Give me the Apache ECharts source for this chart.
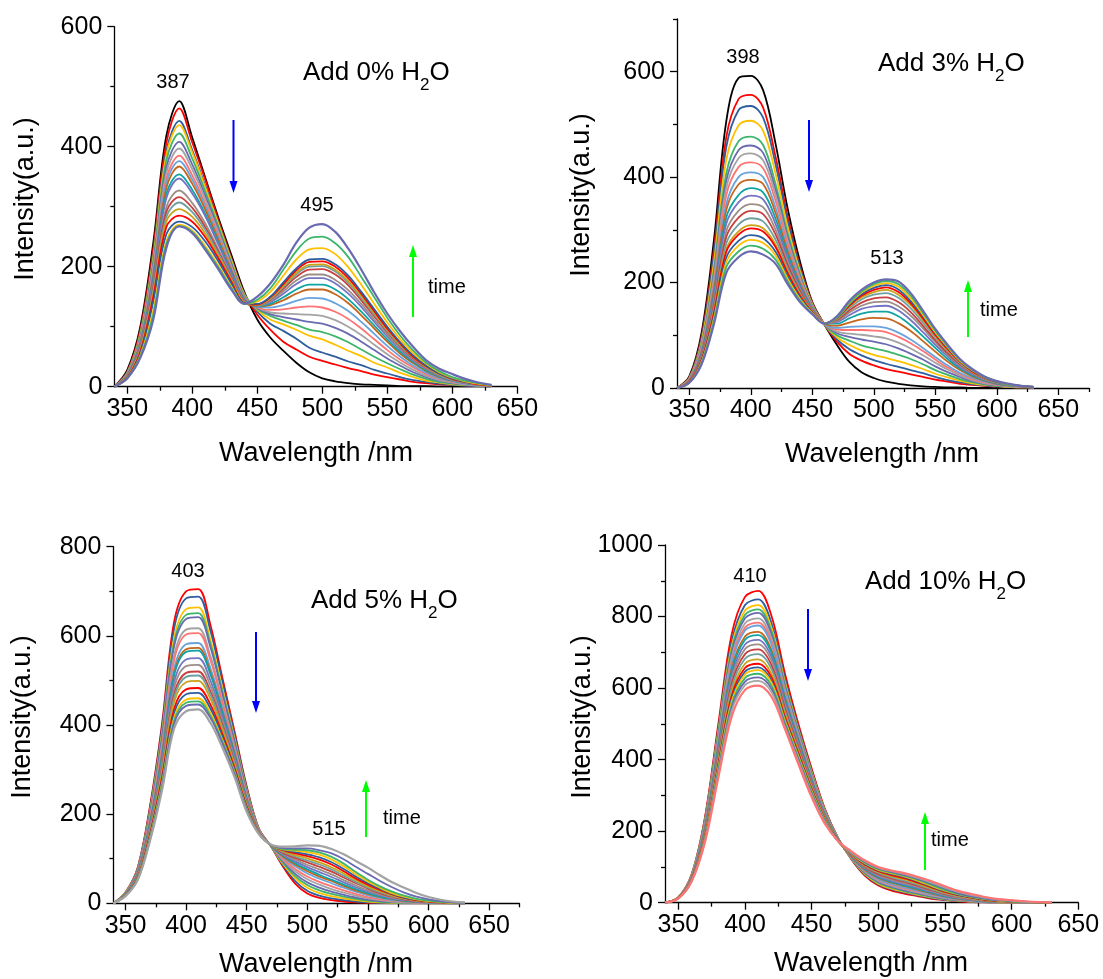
<!DOCTYPE html>
<html><head><meta charset="utf-8">
<script src="https://cdn.jsdelivr.net/npm/echarts@6/dist/echarts.min.js"></script>
<style>html,body{margin:0;padding:0;background:#fff}#c{width:1103px;height:979px}</style>
</head><body><div id="c"></div>
<script>
// ---------------- DATA ----------------
const wavelengths = [340,350,360,370,380,390,400,410,420,430,440,450,460,470,480,490,500,510,520,530,540,550,560,570,580,590,600,610,620,630];

const xTickLabels = [350,400,450,500,550,600,650];
const xMinorTo650 = [375,425,475,525,575,625];
const xMinorTo675 = [375,425,475,525,575,625,675];
const yTicks600 = [0,200,400,600];
const yMinor600 = [100,300,500];
const yMinor700 = [100,300,500,700];
const yTicks800 = [0,200,400,600,800];
const yMinor800 = [100,300,500,700];
const yTicks1000 = [0,200,400,600,800,1000];
const yMinor1000 = [100,300,500,700,900];

const panelTitles = ['Add 0% H', 'Add 3% H', 'Add 5% H', 'Add 10% H'];
const peakLabels = [['387','495'], ['398','513'], ['403','515'], ['410']];

// Panel 1: Add 0% H2O (time series, first curve black)
const panel1Curves = [
[0,28,100,240,418,476,415,348,282,220,158,112,82,60,40,24,14,9,6,4,3,2,1,1,1,0,0,0,0,0],
[0,25,95,230,406,464,407,345,278,215,155,120,95,75,62,50,43,37,31,26,20,16,12,8,6,4,3,2,1,1],
[0,24,90,220,392,443,394,335,274,213,155,125,105,93,80,65,57,50,42,36,28,22,16,11,8,5,3,2,1,1],
[0,23,88,216,386,436,390,332,272,211,154,128,112,104,95,85,79,70,60,51,40,32,23,16,10,7,4,3,2,1],
[0,22,85,210,376,422,380,325,267,207,152,130,118,110,103,95,91,84,74,62,50,39,29,20,13,8,5,3,2,1],
[0,21,82,204,365,408,370,318,262,204,150,131,121,116,112,108,105,98,88,75,61,47,35,24,16,10,6,4,2,1],
[0,21,80,199,356,397,362,312,258,201,149,132,124,122,121,120,118,111,100,86,70,54,40,28,18,11,7,4,2,1],
[0,20,78,194,346,385,352,305,253,198,148,132,128,129,132,134,132,125,113,97,79,61,45,32,21,13,8,5,3,1],
[0,20,76,190,339,376,345,300,249,196,147,133,132,136,143,148,147,139,126,108,88,68,50,35,23,14,9,5,3,1],
[0,19,74,186,331,367,338,295,245,194,146,134,136,144,155,162,162,154,139,119,97,75,55,39,26,16,10,6,3,2],
[0,18,71,180,321,354,328,288,240,191,145,134,138,149,162,170,170,162,146,125,102,79,58,41,27,17,10,6,3,2],
[0,18,70,177,314,347,322,284,237,189,144,135,141,155,171,181,181,172,155,133,108,84,62,43,29,18,11,6,3,2],
[0,17,67,170,299,327,306,272,229,184,142,135,143,159,177,187,187,178,161,138,112,87,64,45,30,19,11,7,4,2],
[0,17,65,166,291,316,298,266,225,182,141,136,145,163,183,195,196,187,169,144,117,91,67,47,31,20,12,7,4,2],
[0,16,63,161,283,307,291,261,222,180,140,136,146,166,187,200,201,192,173,148,120,93,68,48,32,20,12,7,4,2],
[0,16,61,156,275,296,283,255,218,178,140,136,147,168,190,203,204,195,176,151,123,95,70,49,33,21,13,8,4,2],
[0,15,58,150,266,285,275,249,214,175,139,137,149,171,194,208,209,200,181,155,126,97,72,50,34,22,13,8,4,2],
[0,15,55,142,254,275,266,242,209,172,139,138,150,174,197,212,213,204,185,158,129,100,74,52,35,22,14,8,5,2],
[0,14,52,127,242,270,260,234,202,167,138,142,158,185,212,229,231,221,199,170,138,107,79,56,38,24,15,9,5,2],
[0,14,50,120,237,268,258,231,199,165,138,145,164,195,226,247,250,239,216,183,149,115,85,60,40,26,16,10,6,3],
[0,14,48,112,231,267,256,228,196,162,138,150,172,203,240,265,271,258,230,195,157,122,92,66,44,30,21,13,7,3]
];

// Panel 2: Add 3% H2O
const panel2Curves = [
[0,22,105,280,505,588,592,565,465,340,240,163,120,82,50,30,19,12,8,5,3,2,1,1,0,0,0,0,0,0],
[0,20,98,262,475,548,556,532,440,325,232,162,120,88,65,52,43,36,31,26,21,16,12,8,6,4,3,2,1,1],
[0,19,94,252,456,527,535,513,426,316,228,160,120,92,74,62,53,46,40,34,28,21,15,11,7,5,3,2,1,1],
[0,18,88,238,432,498,507,488,408,305,222,158,120,96,82,71,63,57,51,44,36,27,20,14,9,6,4,2,1,1],
[0,17,83,224,406,468,477,461,388,293,216,156,120,100,90,81,75,70,63,55,45,34,25,17,11,7,4,3,2,1],
[0,16,80,216,392,451,460,446,377,286,212,155,121,104,97,92,88,83,75,65,54,41,30,21,13,8,5,3,2,1],
[0,16,78,209,379,436,445,432,367,280,209,154,121,107,103,101,98,94,86,75,62,48,35,24,15,9,6,3,2,1],
[0,15,75,201,365,419,428,417,356,273,205,153,122,111,110,110,109,106,97,85,70,54,39,27,17,11,6,4,2,1],
[0,14,71,192,348,400,409,400,343,265,201,152,122,114,116,117,117,114,105,92,76,59,43,29,19,12,7,4,2,1],
[0,14,69,186,337,386,395,387,333,259,198,151,122,118,124,130,133,132,123,108,89,69,50,34,22,14,8,5,3,1],
[0,13,66,178,323,366,379,371,322,252,194,150,123,122,132,141,145,145,136,119,98,76,55,37,24,15,9,5,3,1],
[0,13,64,172,311,352,365,358,312,246,191,149,123,125,138,150,155,156,147,129,106,82,60,40,26,16,10,6,3,1],
[0,12,61,164,297,336,349,343,301,239,187,148,123,127,143,156,163,164,155,137,113,87,63,43,28,17,10,6,3,1],
[0,12,59,158,286,323,336,330,292,233,184,147,123,129,147,162,170,172,163,144,118,91,66,45,29,18,11,6,3,1],
[0,11,56,151,274,310,322,316,282,227,180,146,123,131,151,168,177,180,171,151,124,96,70,47,30,19,11,6,3,1],
[0,11,54,145,263,297,309,303,273,221,177,145,123,132,154,172,182,186,177,157,129,99,72,49,31,19,12,7,4,2],
[0,11,53,142,258,291,303,297,268,218,175,144,123,133,156,175,186,191,182,161,132,101,74,50,32,20,12,7,4,2],
[0,10,51,136,247,279,290,284,259,212,172,143,123,133,158,178,190,195,187,165,136,104,76,51,33,20,12,7,4,2],
[0,10,49,131,238,270,281,275,252,207,169,142,123,134,160,181,194,199,192,170,139,106,78,52,34,21,13,7,4,2],
[0,10,47,126,229,259,270,264,244,202,166,141,122,134,162,183,197,203,197,175,143,109,80,54,35,21,13,7,4,2],
[0,10,45,121,218,248,259,253,236,197,163,140,122,136,165,186,200,206,202,180,147,112,82,55,36,22,13,8,4,2]
];

// Panel 3: Add 5% H2O
const panel3Curves = [
[0,25,80,215,400,630,700,705,625,505,385,262,168,128,82,44,22,12,7,4,2,1,1,0,0,0,0,0,0,0],
[0,24,78,210,392,615,684,688,612,496,379,259,167,128,85,50,28,17,11,7,4,2,1,1,0,0,0,0,0,0],
[0,24,76,204,380,594,660,664,592,482,370,254,166,128,88,56,35,23,16,11,7,4,2,1,1,0,0,0,0,0],
[0,23,75,200,373,583,647,651,582,474,365,251,165,128,91,61,41,29,21,15,10,6,3,2,1,1,0,0,0,0],
[0,23,74,198,368,575,638,642,575,469,361,249,165,129,94,66,47,35,26,19,13,8,5,3,2,1,0,0,0,0],
[0,22,71,191,355,554,614,617,555,455,352,244,164,129,97,72,54,42,32,24,17,11,7,4,2,1,1,0,0,0],
[0,22,70,188,349,544,603,606,546,449,348,241,163,129,100,77,60,48,38,29,21,14,9,6,3,2,1,0,0,0],
[0,21,68,181,337,525,581,584,528,437,340,237,162,129,103,83,67,55,45,35,26,18,12,7,4,3,1,1,0,0],
[0,21,67,178,331,515,570,573,519,430,336,235,161,129,105,87,72,60,50,39,29,21,14,9,5,3,2,1,0,0],
[0,21,66,176,327,510,564,567,514,427,334,234,161,129,107,90,76,64,53,42,32,23,15,10,6,3,2,1,0,0],
[0,20,64,171,318,495,547,550,500,417,328,231,160,130,109,94,81,70,59,47,36,26,18,11,7,4,2,1,0,0],
[0,20,63,167,310,482,532,535,488,409,322,228,160,130,111,98,86,76,65,52,40,29,20,13,8,5,3,1,1,0],
[0,19,61,162,301,468,517,520,476,400,317,225,159,130,113,102,92,82,71,58,45,33,23,15,9,5,3,2,1,0],
[0,19,60,160,296,460,508,511,469,395,314,223,159,130,115,105,96,87,76,62,48,35,25,16,10,6,3,2,1,0],
[0,19,59,156,289,450,496,499,459,388,309,221,158,130,117,108,101,92,81,67,52,38,27,18,11,6,4,2,1,0],
[0,18,57,152,280,435,480,483,446,379,303,217,158,131,119,112,106,98,87,72,56,42,30,20,12,7,4,2,1,0],
[0,18,56,149,274,425,469,472,437,373,299,215,157,131,120,115,110,103,92,77,60,45,32,21,13,8,5,3,1,0],
[0,17,55,145,267,415,457,460,427,366,294,212,157,131,121,118,115,109,98,83,65,49,35,23,15,9,5,3,1,1],
[0,17,54,143,263,408,450,453,421,362,291,210,156,131,122,120,119,114,104,89,70,53,38,26,17,10,6,3,2,1],
[0,17,53,141,259,402,443,446,416,358,289,209,156,131,124,123,123,119,112,99,82,66,50,36,24,15,9,5,2,1],
[0,16,52,138,252,391,431,435,405,349,283,205,155,132,127,128,130,129,122,110,95,80,63,47,35,23,14,8,4,2]
];

// Panel 4: Add 10% H2O
const panel4Curves = [
[0,15,80,240,500,750,855,872,800,640,500,375,262,180,120,75,48,34,25,18,11,7,4,2,1,0,0,0,0,0],
[0,15,78,234,488,730,832,848,780,626,491,369,259,179,121,78,51,37,28,20,13,8,5,3,1,1,0,0,0,0],
[0,15,77,230,480,717,817,832,767,617,485,365,257,178,122,80,53,39,30,22,15,9,6,3,2,1,0,0,0,0],
[0,15,76,227,474,707,805,820,757,610,481,362,255,178,123,82,56,42,32,24,16,10,6,4,2,1,1,0,0,0],
[0,14,75,224,468,699,795,810,749,604,477,359,254,177,124,84,58,44,34,26,18,11,7,4,2,1,1,0,0,0],
[0,14,74,220,460,686,781,795,737,596,471,355,252,177,125,86,61,47,37,28,20,13,8,5,3,2,1,0,0,0],
[0,14,73,217,453,676,769,783,727,589,466,352,250,176,126,88,64,50,40,31,22,14,9,5,3,2,1,0,0,0],
[0,14,72,215,448,669,761,775,720,584,463,349,249,176,127,90,66,52,42,33,23,15,10,6,3,2,1,1,0,0],
[0,14,71,210,438,654,744,757,705,573,456,344,246,175,128,92,69,56,46,36,26,17,11,7,4,2,1,1,0,0],
[0,13,70,208,433,646,735,748,697,568,452,342,245,175,129,94,71,58,48,38,28,18,12,7,4,3,2,1,0,0],
[0,13,69,204,425,635,722,735,686,560,446,338,243,174,130,96,74,61,51,41,30,20,13,8,5,3,2,1,0,0],
[0,13,68,201,418,624,709,722,675,552,441,334,241,174,131,98,77,64,54,44,32,22,14,9,5,3,2,1,0,0],
[0,13,67,197,410,612,695,708,663,543,435,330,239,173,132,100,80,68,58,47,35,24,16,10,6,4,2,1,0,0],
[0,13,66,193,402,601,682,695,652,535,429,326,237,173,133,102,83,71,61,50,37,26,17,11,7,4,2,1,1,0],
[0,13,65,189,394,588,668,680,639,526,423,322,235,172,134,104,86,74,65,53,40,28,19,12,7,4,3,2,1,0],
[0,13,64,186,387,578,656,668,629,519,418,318,233,172,135,106,88,77,68,56,43,30,21,14,8,5,3,2,1,0],
[0,12,63,183,381,569,646,658,620,513,413,315,231,172,136,108,90,80,71,59,45,32,22,15,9,6,3,2,1,0],
[0,12,62,181,377,562,638,650,614,509,410,312,230,171,137,110,92,82,73,61,47,34,24,16,10,6,4,2,1,0],
[0,12,62,178,371,553,628,640,605,503,405,309,228,171,138,112,94,84,75,64,50,36,25,17,11,7,4,2,1,1],
[0,12,61,176,365,545,618,630,597,497,401,305,226,171,139,114,96,86,77,66,53,39,27,18,12,7,5,3,1,1],
[0,12,60,173,359,536,608,620,588,491,396,301,224,171,140,116,98,88,80,69,56,42,30,21,14,9,6,3,2,1],
[0,12,60,170,350,520,595,607,575,485,388,295,220,172,143,118,100,90,82,72,60,46,33,24,16,10,7,4,2,1]
];

// ---------------- STYLE / LAYOUT ----------------
const palette = ['#FF0000','#2E5E9E','#FFC000','#3DB56A','#6A6AB0','#A3A3A3','#FF7373','#6AA3DC','#C4661B','#0FA3A3','#7474C4','#9C8E86','#C93E3E','#6FA0A0','#C9A21A'];
const panels = [
  {curves: panel1Curves, colors: ['#000000'].concat(palette, palette.slice(0,5)),
   grid: {left:114.3, top:26.7, width:403, height:360}, xMax:650, yMax:600, yMajor:yTicks600, yMinor:yMinor600, xMinor:xMinorTo650},
  {curves: panel2Curves, colors: ['#000000'].concat(palette, palette.slice(0,5)),
   grid: {left:677, top:19, width:412, height:369}, xMax:675, yMax:700, yMajor:yTicks600, yMinor:yMinor700, xMinor:xMinorTo675},
  {curves: panel3Curves, colors: palette.concat(palette.slice(0,6)),
   grid: {left:113.4, top:546.7, width:406, height:356.6}, xMax:675, yMax:800, yMajor:yTicks800, yMinor:yMinor800, xMinor:xMinorTo675},
  {curves: panel4Curves, colors: palette.concat(palette.slice(0,7)),
   grid: {left:665, top:545, width:413.3, height:357.7}, xMax:650, yMax:1000, yMajor:yTicks1000, yMinor:yMinor1000, xMinor:xMinorTo650}
];

const tickFont = 'Liberation Sans';
const axisColor = '#000';
const grids = [], xAxes = [], yAxes = [], series = [];
const plain = v => String(v);
panels.forEach((p, i) => {
  grids.push(Object.assign({containLabel:false}, p.grid));
  const line = {show:true, onZero:false, lineStyle:{color:axisColor, width:1.3}};
  xAxes.push({gridIndex:i, type:'value', min:340, max:p.xMax, position:'bottom',
    axisLine:line, splitLine:{show:false},
    axisTick:{show:true, inside:false, length:7, customValues:xTickLabels, lineStyle:{color:axisColor, width:1.3}},
    axisLabel:{show:true, customValues:xTickLabels, formatter:plain, fontFamily:tickFont, fontSize:25, color:'#000', margin:10}});
  xAxes.push({gridIndex:i, type:'value', min:340, max:p.xMax, position:'bottom',
    axisLine:{show:false, onZero:false}, splitLine:{show:false}, axisLabel:{show:false},
    axisTick:{show:true, inside:false, length:4, customValues:p.xMinor, lineStyle:{color:axisColor, width:1.3}}});
  yAxes.push({gridIndex:i, type:'value', min:0, max:p.yMax, position:'left',
    axisLine:line, splitLine:{show:false},
    axisTick:{show:true, inside:false, length:7, customValues:p.yMajor, lineStyle:{color:axisColor, width:1.3}},
    axisLabel:{show:true, customValues:p.yMajor, formatter:plain, fontFamily:tickFont, fontSize:25, color:'#000', margin:12}});
  yAxes.push({gridIndex:i, type:'value', min:0, max:p.yMax, position:'left',
    axisLine:{show:false, onZero:false}, splitLine:{show:false}, axisLabel:{show:false},
    axisTick:{show:true, inside:false, length:4, customValues:p.yMinor, lineStyle:{color:axisColor, width:1.3}}});
  p.curves.forEach((curve, k) => {
    series.push({type:'line', xAxisIndex:2*i, yAxisIndex:2*i, silent:true, showSymbol:false, symbol:'none',
      smooth:0.35, animation:false,
      lineStyle:{width: k === p.curves.length-1 ? 2.2 : 1.8, color:p.colors[k]},
      data: wavelengths.map((w, j) => [w, curve[j]])});
  });
});

// ---------------- ANNOTATIONS ----------------
const mctx = document.createElement('canvas').getContext('2d');
function tw(text, font){ mctx.font = font; return mctx.measureText(text).width; }
const g = [];
function txt(x, y, text, font, align, rot){
  g.push({type:'text', x:x, y:y, rotation: rot||0, silent:true,
    style:{text:text, font:font, fill:'#000', align:align||'center', verticalAlign:'middle'}});
}
function arrow(x, yTail, yTip, color){
  const dir = yTip > yTail ? 1 : -1;
  g.push({type:'line', silent:true, shape:{x1:x, y1:yTail, x2:x, y2:yTip - dir*9}, style:{stroke:color, lineWidth:2}});
  g.push({type:'polygon', silent:true, shape:{points:[[x-4, yTip - dir*12],[x+4, yTip - dir*12],[x, yTip]]}, style:{fill:color}});
}
function title(left, cy, main){
  const fMain = '26px "Liberation Sans"', fSub = '17px "Liberation Sans"';
  const w1 = tw(main, fMain), w2 = tw('2', fSub);
  txt(left, cy, main, fMain, 'left');
  txt(left + w1, cy + 12, '2', fSub, 'left');
  txt(left + w1 + w2, cy, 'O', fMain, 'left');
}
const nameFont = '27px "Liberation Sans"';
const peakFont = '20px "Liberation Sans"';
// axis names
[[316,454,26,199],[882,455,582,195],[316,965,23,717],[871,964,583,717]].forEach(a => {
  txt(a[0], a[1], 'Wavelength /nm', nameFont, 'center');
  txt(a[2], a[3], 'Intensity(a.u.)', nameFont, 'center', Math.PI/2);
});
// titles
title(303, 73, panelTitles[0]);
title(878, 64, panelTitles[1]);
title(311, 601, panelTitles[2]);
title(865, 582, panelTitles[3]);
// peak labels
txt(173, 82, peakLabels[0][0], peakFont); txt(317, 205, peakLabels[0][1], peakFont);
txt(743, 57, peakLabels[1][0], peakFont); txt(887, 258, peakLabels[1][1], peakFont);
txt(188, 571, peakLabels[2][0], peakFont); txt(329, 829, peakLabels[2][1], peakFont);
txt(750, 576, peakLabels[3][0], peakFont);
// arrows and "time"
arrow(233.5, 120, 193, '#0000FF'); arrow(413, 317, 245, '#00FF00'); txt(428, 287, 'time', peakFont, 'left');
arrow(809, 120, 192, '#0000FF'); arrow(968, 337, 280, '#00FF00'); txt(980, 310, 'time', peakFont, 'left');
arrow(256, 632, 713, '#0000FF'); arrow(366, 837, 780, '#00FF00'); txt(383, 818, 'time', peakFont, 'left');
arrow(808, 609, 681, '#0000FF'); arrow(925, 870, 812, '#00FF00'); txt(931, 840, 'time', peakFont, 'left');

const chart = echarts.init(document.getElementById('c'), null, {renderer:'canvas'});
chart.setOption({
  animation:false, backgroundColor:'#fff',
  grid:grids, xAxis:xAxes, yAxis:yAxes, series:series, graphic:g
});
</script>
</body></html>
